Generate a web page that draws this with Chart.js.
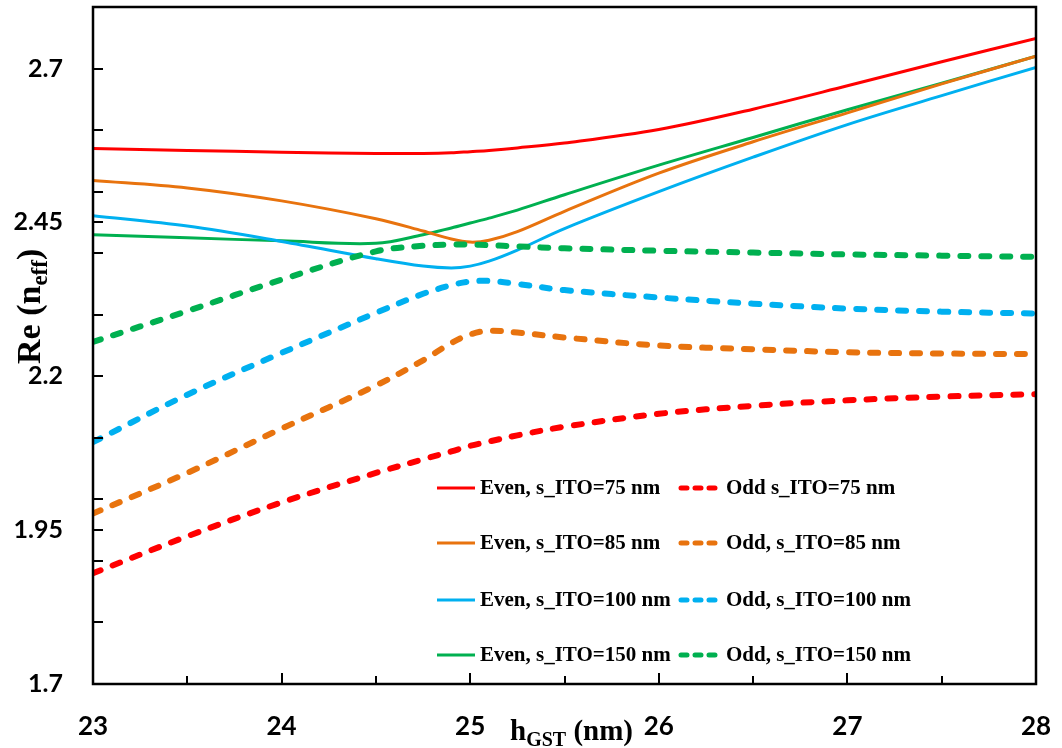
<!DOCTYPE html>
<html>
<head>
<meta charset="utf-8">
<script src="https://cdn.jsdelivr.net/npm/chart.js@4.4.1/dist/chart.umd.min.js"></script>
<style>
  html, body { margin: 0; padding: 0; background: #fff; }
  #wrap { width: 1062px; height: 748px; position: relative; }
</style>
</head>
<body>
<div id="wrap"><canvas id="neffChart"></canvas></div>
<script>
// h_GST (nm)
const hGst = [23, 23.5, 24, 24.5, 24.75, 24.9, 25, 25.1, 25.25, 25.5, 26, 26.5, 27, 27.5, 28];

// Re(n_eff), even modes
const even75  = [2.570, 2.567, 2.564, 2.562, 2.562, 2.563, 2.565, 2.567, 2.571, 2.579, 2.601, 2.634, 2.672, 2.711, 2.749];
const even85  = [2.518, 2.506, 2.485, 2.456, 2.436, 2.423, 2.418, 2.421, 2.435, 2.468, 2.530, 2.581, 2.628, 2.675, 2.720];
const even100 = [2.461, 2.444, 2.419, 2.391, 2.379, 2.376, 2.379, 2.387, 2.405, 2.440, 2.500, 2.556, 2.609, 2.656, 2.702];
const even150 = [2.430, 2.425, 2.420, 2.416, 2.430, 2.441, 2.449, 2.457, 2.470, 2.495, 2.543, 2.588, 2.633, 2.676, 2.720];

// Re(n_eff), odd modes
const odd75  = [1.880, 1.940, 1.995, 2.043, 2.065, 2.078, 2.087, 2.094, 2.104, 2.118, 2.139, 2.152, 2.161, 2.167, 2.171];
const odd85  = [1.977, 2.043, 2.115, 2.185, 2.226, 2.254, 2.268, 2.274, 2.271, 2.263, 2.250, 2.244, 2.239, 2.237, 2.236];
const odd100 = [2.093, 2.170, 2.238, 2.303, 2.334, 2.348, 2.354, 2.355, 2.350, 2.340, 2.328, 2.318, 2.310, 2.305, 2.302];
const odd150 = [2.256, 2.306, 2.357, 2.403, 2.412, 2.414, 2.414, 2.413, 2.411, 2.408, 2.404, 2.401, 2.398, 2.396, 2.394];

const xTickValues = [23, 23.5, 24, 24.5, 25, 25.5, 26, 26.5, 27, 27.5, 28];
const xLabelValues = [23, 24, 25, 26, 27, 28];
const yTickValues = [1.7, 1.8, 1.9, 1.95, 2.0, 2.1, 2.2, 2.3, 2.4, 2.45, 2.5, 2.6, 2.7];
const yLabelValues = [1.7, 1.95, 2.2, 2.45, 2.7];

const RED = '#FF0000', ORANGE = '#E8730E', BLUE = '#00B0F0', GREEN = '#00B050';

function points(ys) {
  return hGst.map((x, i) => ({ x: x, y: ys[i] }));
}

function solid(label, ys, color) {
  return {
    label: label, data: points(ys), borderColor: color, backgroundColor: color,
    borderWidth: 3, pointRadius: 0, tension: 0.35, order: 2
  };
}

function dashed(label, ys, color) {
  return {
    label: label, data: points(ys), borderColor: color, backgroundColor: color,
    borderWidth: 6, borderDash: [8, 13], borderCapStyle: 'round',
    pointRadius: 0, tension: 0.35, order: 1
  };
}

const datasets = [
  solid('Even, s_ITO=75 nm', even75, RED),
  dashed('Odd s_ITO=75 nm', odd75, RED),
  solid('Even, s_ITO=85 nm', even85, ORANGE),
  dashed('Odd, s_ITO=85 nm', odd85, ORANGE),
  solid('Even, s_ITO=100 nm', even100, BLUE),
  dashed('Odd, s_ITO=100 nm', odd100, BLUE),
  solid('Even, s_ITO=150 nm', even150, GREEN),
  dashed('Odd, s_ITO=150 nm', odd150, GREEN)
];

const SERIF = '"Liberation Serif", "Times New Roman", serif';

// frame, inward ticks, axis titles and the two-column legend
const decorPlugin = {
  id: 'decor',
  afterDraw(chart) {
    const ctx = chart.ctx;
    const a = chart.chartArea;
    const xs = chart.scales.x, ys = chart.scales.y;
    ctx.save();

    ctx.strokeStyle = '#000';
    ctx.lineWidth = 2.5;
    ctx.strokeRect(a.left, a.top, a.right - a.left, a.bottom - a.top);

    ctx.lineWidth = 2;
    yTickValues.forEach(v => {
      const py = Math.round(ys.getPixelForValue(v));
      ctx.beginPath();
      ctx.moveTo(a.left, py);
      ctx.lineTo(a.left + 10, py);
      ctx.stroke();
    });
    xTickValues.forEach(v => {
      const px = Math.round(xs.getPixelForValue(v));
      const len = Number.isInteger(v) ? 11 : 8;
      ctx.beginPath();
      ctx.moveTo(px, a.bottom);
      ctx.lineTo(px, a.bottom - len);
      ctx.stroke();
    });

    ctx.fillStyle = '#000';
    ctx.textBaseline = 'alphabetic';
    ctx.textAlign = 'left';

    // x title: h_GST (nm)
    let tx = 510;
    ctx.font = 'bold 29px ' + SERIF;
    ctx.fillText('h', tx, 740);
    tx += ctx.measureText('h').width;
    ctx.font = 'bold 20px ' + SERIF;
    ctx.fillText('GST', tx, 746);
    tx += ctx.measureText('GST').width;
    ctx.font = 'bold 29px ' + SERIF;
    ctx.fillText(' (nm)', tx, 740);

    // y title: Re (n_eff)
    ctx.save();
    ctx.translate(40, 364);
    ctx.rotate(-Math.PI / 2);
    let ty = 0;
    ctx.font = 'bold 34px ' + SERIF;
    ctx.fillText('Re (n', ty, 0);
    ty += ctx.measureText('Re (n').width;
    ctx.font = 'bold 23px ' + SERIF;
    ctx.fillText('eff', ty, 7);
    ty += ctx.measureText('eff').width;
    ctx.font = 'bold 34px ' + SERIF;
    ctx.fillText(')', ty, 0);
    ctx.restore();

    // legend
    const rowY = [488, 543, 600, 655];
    const cols = [{ x0: 437, x1: 475, tx: 480 }, { x0: 681, x1: 722.5, tx: 726 }];
    ctx.font = 'bold 21px ' + SERIF;
    ctx.textBaseline = 'middle';
    datasets.forEach((ds, i) => {
      const row = Math.floor(i / 2), col = cols[i % 2];
      const y = rowY[row];
      ctx.strokeStyle = ds.borderColor;
      ctx.lineCap = ds.borderDash ? 'round' : 'butt';
      ctx.lineWidth = ds.borderDash ? 5 : 3;
      ctx.setLineDash(ds.borderDash ? [6, 8] : []);
      ctx.beginPath();
      ctx.moveTo(col.x0, y);
      ctx.lineTo(col.x1, y);
      ctx.stroke();
      ctx.setLineDash([]);
      ctx.fillStyle = '#000';
      ctx.fillText(ds.label, col.tx, y + 1);
    });

    ctx.restore();
  }
};

function fixWidth(scale) {
  scale.width = 93;
  scale.paddingTop = 0; scale.paddingBottom = 0;
  scale.paddingLeft = 0; scale.paddingRight = 0;
}

function fixHeight(scale) {
  scale.height = 64;
  scale.paddingTop = 0; scale.paddingBottom = 0;
  scale.paddingLeft = 0; scale.paddingRight = 0;
}

new Chart(document.getElementById('neffChart'), {
  type: 'line',
  data: { datasets: datasets },
  plugins: [decorPlugin],
  options: {
    responsive: true,
    maintainAspectRatio: false,
    animation: false,
    layout: { padding: { left: 0, top: 7, right: 26, bottom: 0 } },
    plugins: { legend: { display: false }, tooltip: { enabled: false } },
    scales: {
      x: {
        type: 'linear',
        min: 23,
        max: 28,
        afterBuildTicks: (scale) => { scale.ticks = xTickValues.map(v => ({ value: v })); },
        afterFit: fixHeight,
        grid: { display: false, drawTicks: false },
        border: { display: false },
        ticks: {
          autoSkip: false,
          maxRotation: 0,
          padding: 27,
          color: '#000',
          font: { family: 'Lato', weight: 'bold', size: 26 },
          callback: (v) => xLabelValues.includes(v) ? String(v) : ''
        }
      },
      y: {
        min: 1.7,
        max: 2.8,
        afterBuildTicks: (scale) => { scale.ticks = yTickValues.map(v => ({ value: v })); },
        afterFit: fixWidth,
        grid: { display: false, drawTicks: false },
        border: { display: false },
        ticks: {
          autoSkip: false,
          padding: 30,
          color: '#000',
          font: { family: 'Lato', weight: 'bold', size: 25 },
          callback: (v) => yLabelValues.includes(v) ? String(v) : ''
        }
      }
    }
  }
});
</script>
</body>
</html>
